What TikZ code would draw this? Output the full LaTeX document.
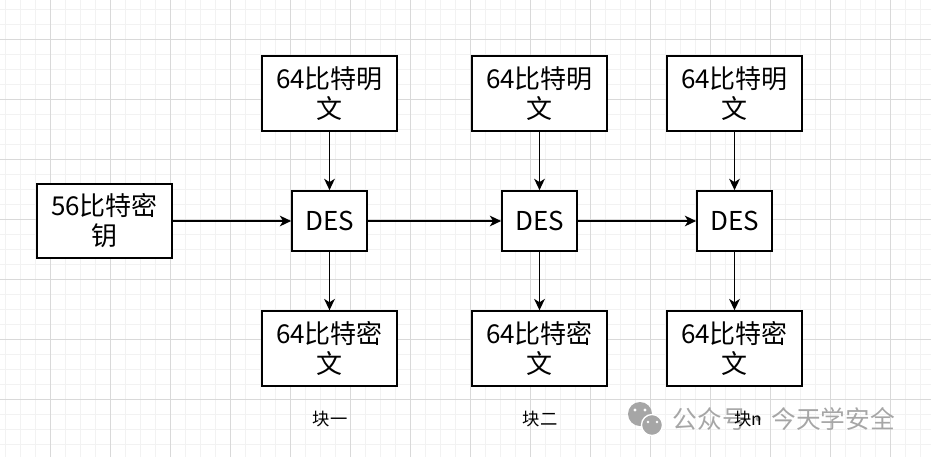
\documentclass[tikz,border=0pt]{standalone}
\usepackage{fontspec}
\setmainfont{Noto Sans CJK SC}
\usetikzlibrary{arrows.meta}
\definecolor{gridminor}{HTML}{F2F2F2}
\definecolor{gridmajor}{HTML}{D9D9D9}
\definecolor{wmgray}{HTML}{A6A6A6}
\begin{document}
\begin{tikzpicture}[x=0.75pt,y=-0.75pt,
    box/.style={draw=black, line width=1.3pt, fill=white, align=center,
      inner sep=0pt, font=\fontsize{19.5}{22.5}\selectfont},
    textbox/.style={box, minimum width=101pt, minimum height=56pt},
    desbox/.style={box, minimum width=56.25pt, minimum height=45pt},
    flow/.style={line width=1.3pt, -{Stealth[length=8.5pt,width=8pt,inset=2.5pt]}},
    blocklabel/.style={font=\fontsize{13}{15}\selectfont},
    watermark/.style={text=wmgray, font=\fontsize{18.5}{22}\selectfont}]

    % Canvas and background grid
    \useasboundingbox (0,0) rectangle (931,457);
    \fill[white] (0,0) rectangle (931,457);
    \foreach \gx in {5,20,...,930}
      \draw[gridminor, line width=0.75pt] (\gx,0) -- (\gx,457);
    \foreach \gy in {9,24,...,456}
      \draw[gridminor, line width=0.75pt] (0,\gy) -- (931,\gy);
    \foreach \gx in {50,110,...,930}
      \draw[gridmajor, line width=0.75pt] (\gx,0) -- (\gx,457);
    \foreach \gy in {39,99,...,456}
      \draw[gridmajor, line width=0.75pt] (0,\gy) -- (931,\gy);

    % Key on the left
    \node[textbox] (key) at (104.5,221) {56比特密\\钥};

    % Plaintext blocks (top row)
    \node[textbox] (plainA) at (329.5,93.5) {64比特明\\文};
    \node[textbox] (plainB) at (539.5,93.5) {64比特明\\文};
    \node[textbox] (plainN) at (734.5,93.5) {64比特明\\文};

    % DES stages (middle row)
    \node[desbox] (desA) at (329.5,221) {DES};
    \node[desbox] (desB) at (539.5,221) {DES};
    \node[desbox] (desN) at (734.5,221) {DES};

    % Ciphertext blocks (bottom row)
    \node[textbox] (cipherA) at (329.5,348.5) {64比特密\\文};
    \node[textbox] (cipherB) at (539.5,348.5) {64比特密\\文};
    \node[textbox] (cipherN) at (734.5,348.5) {64比特密\\文};

    % Key passed along the chain
    \draw[flow] (key) -- (desA);
    \draw[flow] (desA) -- (desB);
    \draw[flow] (desB) -- (desN);

    % Plaintext into DES, ciphertext out
    \draw[flow] (plainA) -- (desA);
    \draw[flow] (plainB) -- (desB);
    \draw[flow] (plainN) -- (desN);
    \draw[flow] (desA) -- (cipherA);
    \draw[flow] (desB) -- (cipherB);
    \draw[flow] (desN) -- (cipherN);

    % Watermark with its icon
    \fill[wmgray] (640,414) circle (12);
    \fill[wmgray, draw=white, line width=1pt] (652,425) circle (10.5);
    \fill[white] (635,410) circle (1.6) (645,410) circle (1.6);
    \fill[white] (648,422) circle (1.4) (657,422) circle (1.4);
    \node[watermark, anchor=west] (wmark) at (668,419) {公众号·今天学安全};

    % Block labels
    \node[blocklabel] (labelA) at (330,419) {块一};
    \node[blocklabel] (labelB) at (540,419) {块二};
    \node[blocklabel] (labelN) at (748,419) {块n};

\end{tikzpicture}
\end{document}
